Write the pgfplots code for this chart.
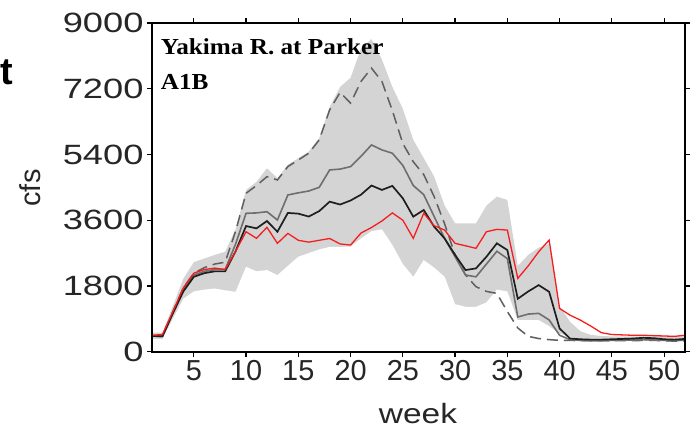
\documentclass[border=0pt]{standalone}
\usepackage{fontspec}
\setmainfont{Liberation Sans}
\newfontfamily\serifb[FakeStretch=1.1]{Liberation Serif}
\newfontfamily\widesans[FakeStretch=1.3]{Liberation Sans}
\newfontfamily\labelsans[FakeStretch=1.2]{Liberation Sans}
\usepackage{pgfplots}
\usepackage{pgfplotstable}
\pgfplotsset{compat=1.18}
\definecolor{bandgray}{RGB}{212,212,212}
\definecolor{midgray}{RGB}{110,110,110}
\definecolor{dashgray}{RGB}{95,95,95}
\definecolor{nearblack}{RGB}{30,30,30}
\definecolor{obsred}{RGB}{245,30,30}

\pgfplotstableread{
week red black gray dashed up lo
1 450 430 430 430 520 350
2 470 420 420 420 520 350
3 1100 1050 1080 1100 1250 900
4 1750 1650 1700 1750 2000 1450
5 2150 2050 2100 2150 2450 1650
6 2250 2150 2200 2300 2550 1700
7 2290 2200 2250 2400 2650 1730
8 2250 2200 2250 2450 2737 1680
9 2750 2750 2950 3300 3350 1640
10 3285 3441 3789 4338 4428 2325
11 3104 3377 3800 4550 4650 2200
12 3405 3578 3833 4793 5023 2235
13 2967 3285 3606 4702 4750 2097
14 3240 3800 4291 5068 5120 2350
15 3050 3780 4350 5250 5300 2600
16 3000 3700 4400 5434 5480 2700
17 3050 3850 4500 5799 5850 2800
18 3100 4108 4977 6622 6700 2870
19 2950 4030 5000 7100 7250 2870
20 2920 4140 5068 6806 7500 2880
21 3250 4300 5350 7400 8300 3100
22 3400 4550 5662 7765 8560 3300
23 3580 4430 5525 7400 8000 3350
24 3800 4540 5434 6600 7250 2920
25 3600 4200 5100 5700 6650 2400
26 3104 3697 4550 5200 5800 2050
27 3789 3880 4300 4850 5300 2509
28 3450 3422 3700 4245 4793 2300
29 3330 3100 3100 3500 4000 2051
30 2967 2650 2600 2650 3515 1300
31 2900 2235 2100 2100 3515 1230
32 2830 2281 2050 1780 3515 1228
33 3285 2600 2400 1650 4000 1350
34 3350 2967 2750 1596 4245 1700
35 3330 2783 2550 1100 4154 1650
36 2007 1450 950 650 2350 864
37 2350 1650 1030 420 2650 864
38 2737 1823 1050 360 2850 864
39 3057 1640 870 330 2950 700
40 1184 636 450 310 1250 499
41 1000 362 330 310 820 406
42 864 340 310 300 560 320
43 700 330 300 300 460 290
44 520 330 300 300 430 290
45 470 340 310 300 420 290
46 460 350 320 300 420 290
47 450 360 320 300 420 290
48 450 380 330 310 420 290
49 440 370 320 310 420 290
50 430 340 310 300 420 290
51 420 330 300 290 420 280
52 450 350 320 300 420 290
}\flowdata

\begin{document}
\begin{tikzpicture}
\useasboundingbox (0bp,0bp) rectangle (690bp,429bp);
\begin{axis}[
  at={(152bp,77.3bp)}, anchor=south west,
  scale only axis, width=533bp, height=328.7bp,
  xmin=1, xmax=52, ymin=0, ymax=9000,
  xtick={5,10,...,50}, ytick={0,1800,...,9000},
  tick align=outside, major tick length=5bp,
  every tick/.style={black, line width=1.2bp},
  axis line style={line width=1.8bp, black},
  axis on top=true,
  /pgf/number format/assume math mode=true,
  /pgf/number format/set thousands separator={},
  scaled y ticks=false,
  xticklabel style={font=\fontsize{29}{29}\selectfont, text=black!85},
  yticklabel style={font=\widesans\fontsize{28}{28}\selectfont, text=black!85},
]
\addplot[fill=bandgray, draw=none] table[x=week, y=up] {\flowdata} \closedcycle;
\addplot[fill=white, draw=none] table[x=week, y=lo] {\flowdata} \closedcycle;
\addplot[dashgray, line width=1.5bp, dash pattern=on 11bp off 6bp] table[x=week, y=dashed] {\flowdata};
\addplot[midgray, line width=1.6bp] table[x=week, y=gray] {\flowdata};
\addplot[nearblack, line width=1.7bp] table[x=week, y=black] {\flowdata};
\addplot[obsred, line width=1.3bp] table[x=week, y=red] {\flowdata};
\end{axis}
\node[anchor=base west, inner sep=0, font=\serifb\bfseries\fontsize{23}{23}\selectfont] at (160.7bp,374bp) {Yakima R. at Parker};
\node[anchor=base west, inner sep=0, font=\serifb\bfseries\fontsize{23}{23}\selectfont] at (160.7bp,339bp) {A1B};
\node[anchor=base east, inner sep=0, font=\bfseries\fontsize{38}{38}\selectfont] at (13bp,344bp) {t};
\node[rotate=90, inner sep=0, font=\fontsize{29}{29}\selectfont, text=black!85] at (30.5bp,241bp) {cfs};
\node[anchor=base, inner sep=0, font=\labelsans\fontsize{28}{28}\selectfont, text=black!85] at (418bp,6bp) {week};
\end{tikzpicture}
\end{document}
